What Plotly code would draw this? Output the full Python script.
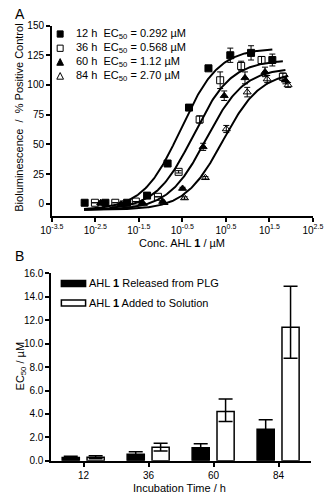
import numpy as np
import plotly.graph_objects as go

# ---------------- Panel A data (concentration in µM, % positive control) ----------------
conc_12 = [0.0018, 0.0054, 0.017, 0.049, 0.145, 0.45, 1.26, 4.0, 12.0, 37.0]
resp_12 = [1, 1, 1, 7, 34, 81, 114, 125, 127, 121]
err_12 = [None, None, None, None, 1, 1, 1, 6, 6, 5]

conc_36 = [0.0031, 0.0091, 0.027, 0.087, 0.26, 0.79, 2.34, 7.1, 20.9, 64.6]
resp_36 = [1, 1, 2, 6, 27, 71, 104, 116, 121, 107]
err_36 = [None, None, None, None, 1, 3, 7, 4, 3, 3]

conc_60 = [0.0042, 0.0123, 0.038, 0.112, 0.32, 0.95, 2.9, 8.7, 25.1, 74.0]
resp_60 = [1, 0, 1, 2, 13, 48, 91, 106, 111, 104]
err_60 = [None, None, None, None, 1, 3, 4, 5, 4, 3]

conc_84 = [0.0044, 0.0132, 0.040, 0.12, 0.355, 1.07, 3.24, 9.8, 28.2, 85.1]
resp_84 = [0, 0, 0, 1, 5, 22, 63, 94, 105, 100]
err_84 = [None, None, None, None, 1, 1, 3, 4, 3, 2]

# fitted dose-response parameters (EC50 values from the legend)
ec50 = [0.292, 0.568, 1.12, 2.70]
fit_top = [131, 121, 114.4, 111.3]
fit_bottom = -5
fit_hill = 1.0
fit_start = 0.00174
fit_end = [37.0, 64.6, 74.0, 85.1]

labels_A = ["12 h", "36 h", "60 h", "84 h"]
ec50_text = ["0.292", "0.568", "1.12", "2.70"]

# ---------------- Panel B data ----------------
times = ["12", "36", "60", "84"]
released = [0.292, 0.568, 1.12, 2.70]
released_err = [0.1, 0.2, 0.33, 0.8]
solution = [0.30, 1.15, 4.2, 11.4]
solution_err_plus = [0.13, 0.35, 1.08, 3.5]
solution_err_minus = [0.13, 0.32, 0.85, 2.65]

W, H = 336, 500
FONT = "Liberation Sans, Arial, sans-serif"


def fx(p):
    return p / W


def fy(p):
    return 1 - p / H


fig = go.Figure()

series = [
    (conc_12, resp_12, err_12, "square"),
    (conc_36, resp_36, err_36, "square-open"),
    (conc_60, resp_60, err_60, "triangle-up"),
    (conc_84, resp_84, err_84, "triangle-up-open"),
]

for i, (c, r, e, sym) in enumerate(series):
    xc = np.logspace(np.log10(fit_start), np.log10(fit_end[i]), 200)
    yc = fit_bottom + (fit_top[i] - fit_bottom) / (1 + 10 ** ((np.log10(ec50[i]) - np.log10(xc)) * fit_hill))
    fig.add_trace(go.Scatter(x=xc, y=yc, mode="lines", line=dict(color="black", width=2),
                             showlegend=False, hoverinfo="skip", xaxis="x", yaxis="y"))

for i, (c, r, e, sym) in enumerate(series):
    fig.add_trace(go.Scatter(
        x=c, y=r, mode="markers",
        marker=dict(symbol=sym, size=7, color="black", line=dict(color="black", width=1)),
        error_y=dict(type="data", array=e, color="black", thickness=1, width=3),
        showlegend=False, xaxis="x", yaxis="y"))

# Panel B bars
fig.add_trace(go.Bar(
    x=times, y=released, width=0.264, offset=-0.33,
    marker=dict(color="black", line=dict(color="black", width=1.5)),
    error_y=dict(type="data", array=released_err, color="black", thickness=1.5, width=7),
    showlegend=False, xaxis="x2", yaxis="y2"))
fig.add_trace(go.Bar(
    x=times, y=solution, width=0.264, offset=0.053,
    marker=dict(color="white", line=dict(color="black", width=1.5)),
    error_y=dict(type="data", symmetric=False, array=solution_err_plus,
                 arrayminus=solution_err_minus, color="black", thickness=1.5, width=7),
    showlegend=False, xaxis="x2", yaxis="y2"))

axis_common = dict(showline=True, linecolor="black", linewidth=1.5, ticks="outside",
                   ticklen=4, tickwidth=1.5, tickcolor="black", showgrid=False, zeroline=False,
                   tickfont=dict(family=FONT, size=10, color="black"))

xt = [-3.5, -2.5, -1.5, -0.5, 0.5, 1.5, 2.5]
fig.update_layout(
    width=W, height=H,
    margin=dict(l=0, r=0, t=0, b=0),
    paper_bgcolor="white", plot_bgcolor="white",
    font=dict(family=FONT, color="black"),
    showlegend=False,
    xaxis=dict(type="log", range=[-3.5, 2.5], domain=[fx(42.7), fx(323)], anchor="y",
               tickvals=[10 ** k for k in xt],
               ticktext=["10<sup>%s</sup>" % ("%g" % k) for k in xt], **axis_common),
    yaxis=dict(range=[-10, 150], domain=[fy(215), fy(20)], anchor="x",
               tickvals=[0, 25, 50, 75, 100, 125, 150], **axis_common),
    xaxis2=dict(type="category", range=[-0.5, 3.5], domain=[fx(42), fx(321)], anchor="y2",
                **axis_common),
    yaxis2=dict(range=[0, 16], domain=[fy(466), fy(274)], anchor="x2",
                tickvals=[0, 2, 4, 6, 8, 10, 12, 14, 16], tickformat=".1f", **axis_common),
    bargap=0.3,
)

ann = []
shapes = []
tf = dict(family=FONT, size=11, color="black")

ann.append(dict(text="A", x=fx(1), y=fy(8), xref="paper", yref="paper", xanchor="left",
                yanchor="middle", showarrow=False, font=dict(family=FONT, size=14)))
ann.append(dict(text="B", x=fx(1), y=fy(256), xref="paper", yref="paper", xanchor="left",
                yanchor="middle", showarrow=False, font=dict(family=FONT, size=14)))

ann.append(dict(text="Bioluminescence  /  % Positive Control", x=fx(8), y=fy(114),
                xref="paper", yref="paper", textangle=-90, showarrow=False,
                xanchor="center", yanchor="middle", font=tf))
ann.append(dict(text="Conc. AHL <b>1</b> / µM", x=fx(182), y=fy(243), xref="paper", yref="paper",
                showarrow=False, xanchor="center", yanchor="middle", font=tf))
ann.append(dict(text="EC<sub>50</sub> / µM", x=fx(10), y=fy(369), xref="paper", yref="paper",
                textangle=-90, showarrow=False, xanchor="center", yanchor="middle", font=tf))
ann.append(dict(text="Incubation Time / h", x=fx(180), y=fy(494), xref="paper", yref="paper",
                showarrow=False, xanchor="center", yanchor="middle", font=tf))

# Panel A legend
rows = [28.7, 43.3, 57.7, 72.0]
mx = 51.7
s = 3.2
for i, yy in enumerate(rows):
    ann.append(dict(text="%s  EC<sub>50</sub> = %s µM" % (labels_A[i], ec50_text[i]),
                    x=fx(67), y=fy(yy), xref="paper", yref="paper", showarrow=False,
                    xanchor="left", yanchor="middle", font=tf))
    if i < 2:
        shapes.append(dict(type="rect", xref="paper", yref="paper",
                           x0=fx(mx - s), x1=fx(mx + s), y0=fy(yy + s), y1=fy(yy - s),
                           line=dict(color="black", width=1),
                           fillcolor="black" if i == 0 else "white"))
    else:
        path = "M %f,%f L %f,%f L %f,%f Z" % (fx(mx), fy(yy - 3.8), fx(mx - 3.6), fy(yy + 3),
                                               fx(mx + 3.6), fy(yy + 3))
        shapes.append(dict(type="path", xref="paper", yref="paper", path=path,
                           line=dict(color="black", width=1),
                           fillcolor="black" if i == 2 else "white"))

# Panel B legend
brow = [284.3, 304.3]
btext = ["AHL <b>1</b> Released from PLG", "AHL <b>1</b> Added to Solution"]
for i, yy in enumerate(brow):
    shapes.append(dict(type="rect", xref="paper", yref="paper",
                       x0=fx(53), x1=fx(79), y0=fy(yy + 3), y1=fy(yy - 3),
                       line=dict(color="black", width=1.5),
                       fillcolor="black" if i == 0 else "white"))
    ann.append(dict(text=btext[i], x=fx(80.5), y=fy(yy), xref="paper", yref="paper",
                    showarrow=False, xanchor="left", yanchor="middle", font=tf))

fig.update_layout(annotations=ann, shapes=shapes)
fig.write_html("out.html", config={"displayModeBar": False},
               post_script="document.body.style.margin='0';document.body.style.overflow='hidden';")
